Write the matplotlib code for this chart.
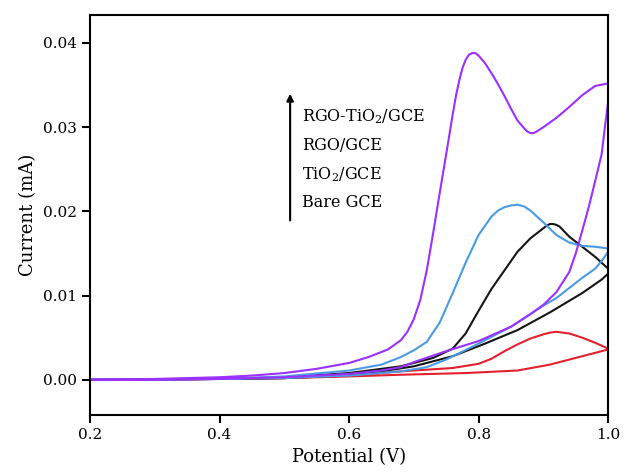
import matplotlib
matplotlib.use("Agg")
import matplotlib.pyplot as plt

plt.rcParams["font.family"] = ["DejaVu Serif"]
plt.rcParams["mathtext.default"] = "regular"

# Cyclic voltammograms: forward (anodic) scan then reverse scan
purple_fwd_e = [0.20, 0.30, 0.40, 0.45, 0.50, 0.55, 0.60, 0.63, 0.66, 0.68, 0.69, 0.70,
                0.71, 0.72, 0.73, 0.74, 0.75, 0.76, 0.765, 0.77, 0.775, 0.78, 0.785,
                0.79, 0.795, 0.80, 0.81, 0.82, 0.83, 0.84, 0.85, 0.86, 0.87, 0.875,
                0.88, 0.885, 0.89, 0.90, 0.92, 0.94, 0.96, 0.98, 1.00]
purple_fwd_i = [0.0000, 0.0001, 0.0003, 0.0005, 0.0008, 0.0013, 0.0020, 0.0027, 0.0036,
                0.0047, 0.0057, 0.0072, 0.0095, 0.0130, 0.0175, 0.0222, 0.0268, 0.0315,
                0.0337, 0.0355, 0.0370, 0.0380, 0.0386, 0.0388, 0.0388, 0.0385, 0.0376,
                0.0364, 0.0351, 0.0337, 0.0322, 0.0308, 0.0299, 0.0295, 0.0293, 0.0293,
                0.0295, 0.0300, 0.0311, 0.0324, 0.0338, 0.0349, 0.0352]
purple_rev_e = [1.00, 0.995, 0.99, 0.98, 0.97, 0.96, 0.95, 0.94, 0.92, 0.90, 0.88, 0.85,
                0.80, 0.75, 0.70, 0.68, 0.65, 0.60, 0.50, 0.40, 0.30, 0.20]
purple_rev_i = [0.0330, 0.0300, 0.0268, 0.0236, 0.0205, 0.0177, 0.0150, 0.0128, 0.0104,
                0.0089, 0.0078, 0.0063, 0.0046, 0.0034, 0.0021, 0.0015, 0.0011, 0.0007,
                0.0003, 0.0001, 0.0000, 0.0000]

blue_fwd_e = [0.20, 0.40, 0.50, 0.60, 0.65, 0.68, 0.70, 0.72, 0.74, 0.76, 0.78, 0.80,
              0.82, 0.83, 0.84, 0.85, 0.86, 0.87, 0.88, 0.90, 0.92, 0.94, 0.96, 0.98, 1.00]
blue_fwd_i = [0.0000, 0.0001, 0.0004, 0.0011, 0.0018, 0.0027, 0.0035, 0.0045, 0.0068,
              0.0103, 0.0139, 0.0172, 0.0194, 0.0201, 0.0205, 0.0207, 0.0208, 0.0206,
              0.0201, 0.0187, 0.0172, 0.0163, 0.0159, 0.0158, 0.0156]
blue_rev_e = [1.00, 0.99, 0.98, 0.96, 0.94, 0.92, 0.90, 0.88, 0.85, 0.80, 0.75, 0.72,
              0.68, 0.60, 0.50, 0.40, 0.20]
blue_rev_i = [0.0152, 0.0141, 0.0132, 0.0121, 0.0109, 0.0097, 0.0088, 0.0078, 0.0063,
              0.0043, 0.0024, 0.0015, 0.0010, 0.0005, 0.0002, 0.0001, 0.0000]

black_fwd_e = [0.20, 0.40, 0.50, 0.60, 0.68, 0.73, 0.76, 0.78, 0.80, 0.82, 0.84, 0.86,
               0.88, 0.90, 0.905, 0.91, 0.915, 0.92, 0.925, 0.93, 0.94, 0.96, 0.98, 1.00]
black_fwd_i = [0.0000, 0.0001, 0.0003, 0.0008, 0.0016, 0.0026, 0.0037, 0.0055, 0.0082,
               0.0108, 0.0130, 0.0152, 0.0168, 0.0180, 0.0183, 0.0185, 0.0185, 0.0184,
               0.0182, 0.0178, 0.0170, 0.0158, 0.0146, 0.0132]
black_rev_e = [1.00, 0.99, 0.96, 0.91, 0.86, 0.81, 0.76, 0.70, 0.65, 0.60, 0.50, 0.40, 0.20]
black_rev_i = [0.0126, 0.0119, 0.0103, 0.0080, 0.0059, 0.0043, 0.0028, 0.0016, 0.0010,
               0.0006, 0.0002, 0.0001, 0.0000]

red_fwd_e = [0.20, 0.40, 0.50, 0.60, 0.68, 0.76, 0.80, 0.82, 0.84, 0.86, 0.88, 0.90,
             0.91, 0.92, 0.93, 0.94, 0.96, 0.98, 1.00]
red_fwd_i = [0.0000, 0.0001, 0.0002, 0.0005, 0.0010, 0.0014, 0.0019, 0.0025, 0.0034,
             0.0042, 0.0049, 0.0054, 0.0056, 0.0057, 0.0056, 0.0055, 0.0050, 0.0044, 0.0037]
red_rev_e = [1.00, 0.98, 0.96, 0.91, 0.86, 0.78, 0.68, 0.60, 0.50, 0.40, 0.20]
red_rev_i = [0.0036, 0.0032, 0.0028, 0.0018, 0.0011, 0.0008, 0.0006, 0.0004, 0.0002,
             0.0001, 0.0000]

labels = ["RGO-TiO$_2$/GCE", "RGO/GCE", "TiO$_2$/GCE", "Bare GCE"]

curves = [
    (red_fwd_e + red_rev_e, red_fwd_i + red_rev_i, "#e3202e"),
    (black_fwd_e + black_rev_e, black_fwd_i + black_rev_i, "#151515"),
    (blue_fwd_e + blue_rev_e, blue_fwd_i + blue_rev_i, "#4a9be6"),
    (purple_fwd_e + purple_rev_e, purple_fwd_i + purple_rev_i, "#9b30ff"),
]

fig = plt.figure(figsize=(6.25, 4.75), dpi=100)
ax = fig.add_axes([0.144, 0.126, 0.829, 0.842])

for e, i, c in curves:
    ax.plot(e, i, color=c, lw=1.5)

ax.set_xlim(0.2, 1.0)
ax.set_ylim(-0.0042, 0.0433)
ax.set_xticks([0.2, 0.4, 0.6, 0.8, 1.0])
ax.set_yticks([0.00, 0.01, 0.02, 0.03, 0.04])
ax.set_xticklabels(["0.2", "0.4", "0.6", "0.8", "1.0"])
ax.set_yticklabels(["0.00", "0.01", "0.02", "0.03", "0.04"])
ax.tick_params(direction="out", length=6, width=1.5, labelsize=11)
for s in ax.spines.values():
    s.set_linewidth(1.5)
ax.set_xlabel("Potential (V)", fontsize=13)
ax.set_ylabel("Current (mA)", fontsize=13)

# arrow + label stack
ax.annotate("", xy=(0.509, 0.0343), xytext=(0.509, 0.0186),
            arrowprops=dict(arrowstyle="-|>", color="black", lw=1.5, mutation_scale=10))
for k, lab in enumerate(labels):
    ax.text(0.527, 0.0312 - k * 0.0034, lab, fontsize=11.5, va="center", ha="left")

plt.savefig("out.png", dpi=100)
